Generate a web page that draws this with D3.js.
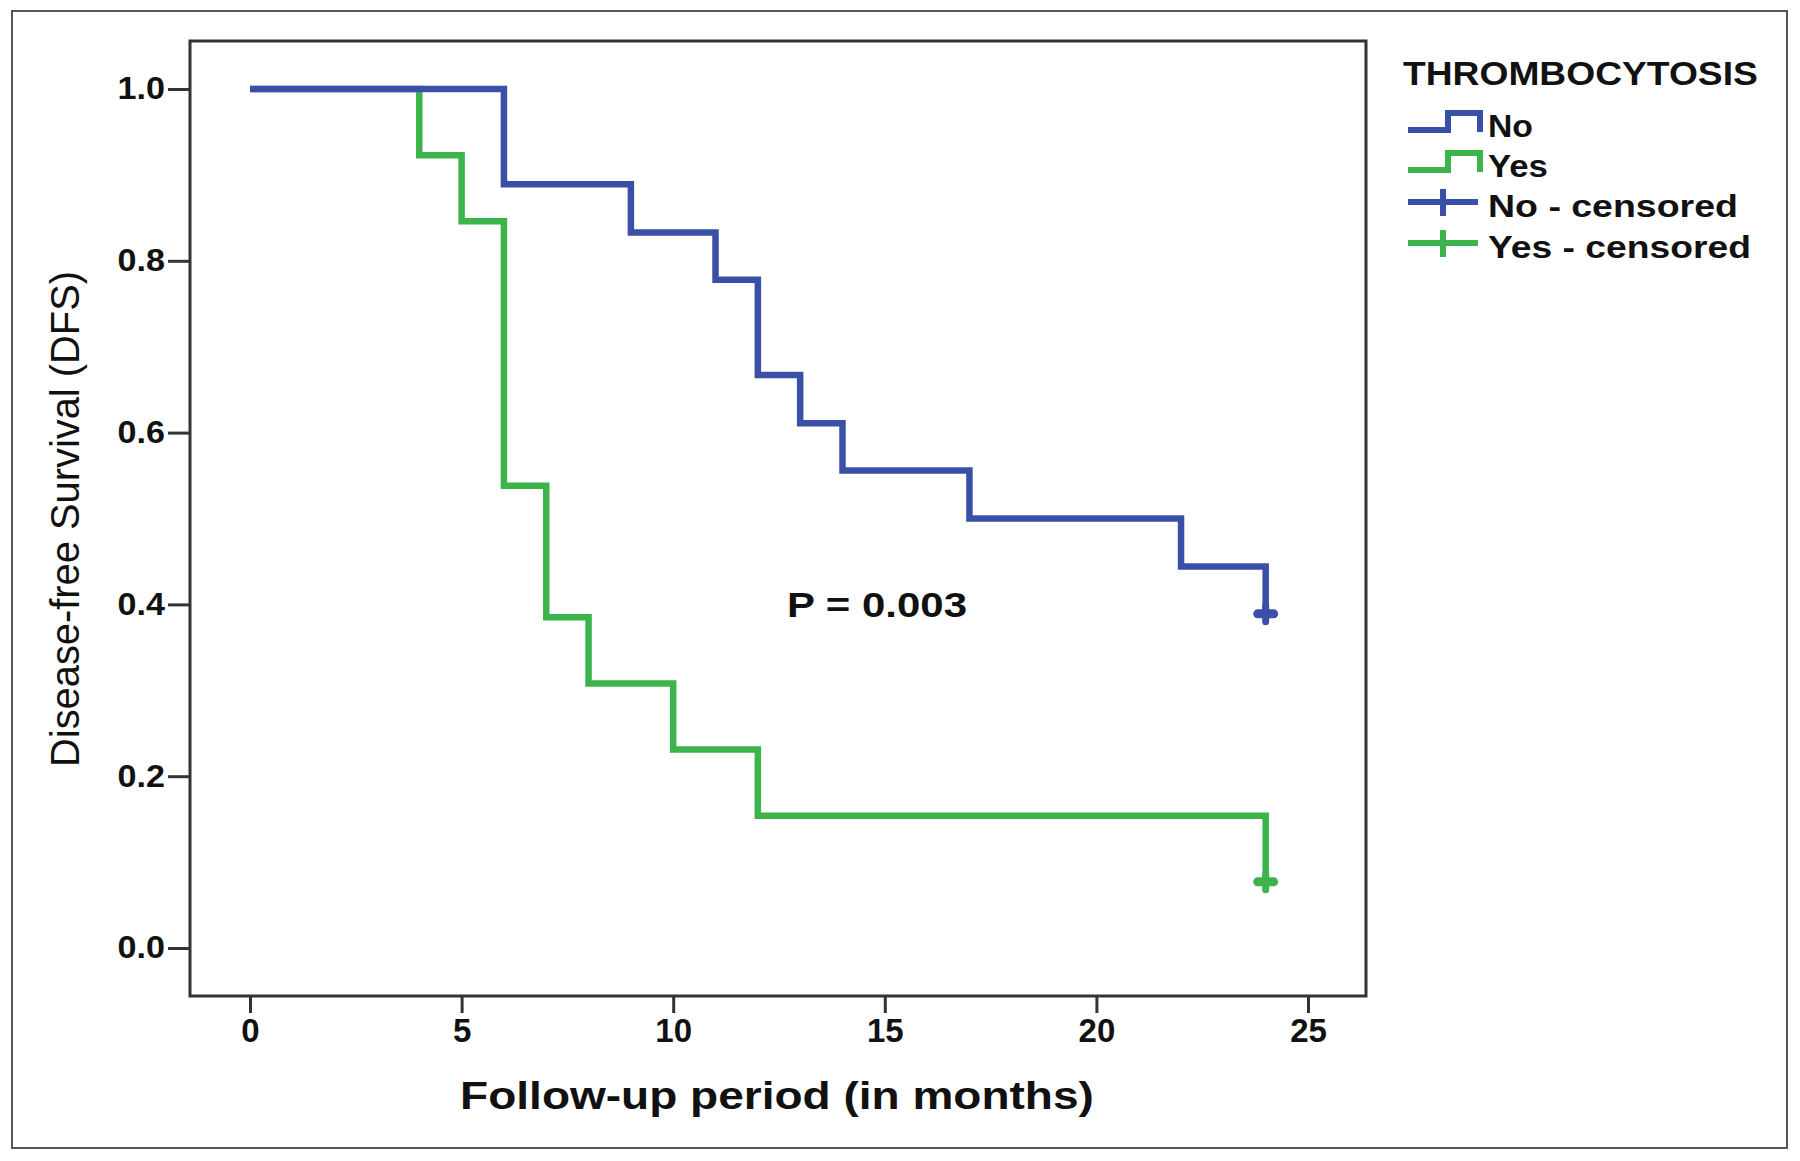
<!DOCTYPE html>
<html>
<head>
<meta charset="utf-8">
<script src="https://cdn.jsdelivr.net/npm/d3@7"></script>
<style>
  html, body { margin: 0; padding: 0; background: #fff; }
  svg { display: block; }
  text { font-family: "Liberation Sans", Arial, "DejaVu Sans", sans-serif; fill: #111; }
</style>
</head>
<body>
<svg id="chart" width="1800" height="1161"></svg>
<script>
// ---- data ----
const noTimes = [0, 6, 9, 11, 12, 13, 14, 17, 22, 24];
const noSurv  = [1.0, 0.889, 0.833, 0.778, 0.667, 0.611, 0.556, 0.500, 0.444, 0.389];
const yesTimes = [0, 4, 5, 6, 7, 8, 10, 12, 24];
const yesSurv  = [1.0, 0.923, 0.846, 0.538, 0.385, 0.308, 0.231, 0.154, 0.077];
const noCensored  = [{t: 24, s: 0.389}];
const yesCensored = [{t: 24, s: 0.077}];
const xTicks = [0, 5, 10, 15, 20, 25];
const yTicks = [0.0, 0.2, 0.4, 0.6, 0.8, 1.0];
const legendTitle = "THROMBOCYTOSIS";
const legendItems = ["No", "Yes", "No - censored", "Yes - censored"];
const pText = "P = 0.003";
const xTitle = "Follow-up period (in months)";
const yTitle = "Disease-free Survival (DFS)";

const BLUE = "#3a50a6", GREEN = "#3cb44b";

const svg = d3.select("#chart");

// horizontally stretched text helper (mimics the widened glyphs of the original)
function stretchText(parent, x, y, str, size, weight, width, anchor) {
  const g = parent.append("g");
  const t = g.append("text").attr("x", 0).attr("y", 0).attr("font-size", size)
    .attr("font-weight", weight).attr("text-anchor", anchor || "start").text(str);
  const len = t.node().getComputedTextLength();
  g.attr("transform", `translate(${x},${y}) scale(${width / len},1)`);
  return g;
}

// outer frame
svg.append("rect").attr("x", 12).attr("y", 11).attr("width", 1775).attr("height", 1137)
  .attr("fill", "none").attr("stroke", "#555").attr("stroke-width", 2);

const L = 190, T = 41, R = 1366, B = 996;
const x = d3.scaleLinear().domain([0, 25]).range([250, 1308]);
const y = d3.scaleLinear().domain([0, 1]).range([948, 89]);

// plot frame
svg.append("rect").attr("x", L).attr("y", T).attr("width", R - L).attr("height", B - T)
  .attr("fill", "none").attr("stroke", "#333").attr("stroke-width", 3);

// axes
const xAxis = svg.append("g").attr("transform", `translate(0,${B})`)
  .call(d3.axisBottom(x).tickValues(xTicks).tickSize(17).tickPadding(6).tickFormat(d3.format("d")));
xAxis.select(".domain").remove();
xAxis.selectAll("line").attr("stroke", "#333").attr("stroke-width", 3);
xAxis.selectAll("text").attr("font-size", 33).attr("font-weight", "bold")
  .attr("fill", "#111").attr("font-family", '"Liberation Sans", Arial, sans-serif');

const yAxis = svg.append("g").attr("transform", `translate(${L},0)`)
  .call(d3.axisLeft(y).tickValues(yTicks).tickSize(22).tickPadding(3).tickFormat(d3.format(".1f")));
yAxis.select(".domain").remove();
yAxis.selectAll("line").attr("stroke", "#333").attr("stroke-width", 3);
yAxis.selectAll("text").attr("font-size", 31).attr("font-weight", "bold")
  .attr("fill", "#111").attr("font-family", '"Liberation Sans", Arial, sans-serif')
  .attr("transform", "scale(1.1,1)").attr("x", -25 / 1.1);

// curves
const line = d3.line().x(d => x(d[0])).y(d => y(d[1])).curve(d3.curveStepAfter);
function drawCurve(times, surv, color) {
  const pts = times.map((t, i) => [t, surv[i]]);
  svg.append("path").attr("d", line(pts)).attr("fill", "none")
    .attr("stroke", color).attr("stroke-width", 6.5).attr("stroke-linejoin", "miter");
}
drawCurve(yesTimes, yesSurv, GREEN);
drawCurve(noTimes, noSurv, BLUE);

function drawCensor(data, color) {
  data.forEach(d => {
    const cx = x(d.t), cy = y(d.s);
    svg.append("line").attr("x1", cx - 8).attr("x2", cx + 8).attr("y1", cy).attr("y2", cy)
      .attr("stroke", color).attr("stroke-width", 9).attr("stroke-linecap", "round");
    svg.append("line").attr("x1", cx).attr("x2", cx).attr("y1", cy - 8).attr("y2", cy + 8)
      .attr("stroke", color).attr("stroke-width", 7).attr("stroke-linecap", "round");
  });
}
drawCensor(noCensored, BLUE);
drawCensor(yesCensored, GREEN);

// P value
stretchText(svg, 787, 617, pText, 36, "bold", 180, "start");

// axis titles
stretchText(svg, 777, 1109, xTitle, 38, "bold", 634, "middle");
svg.append("text").attr("transform", `translate(79,519) rotate(-90)`).attr("text-anchor", "middle")
  .attr("font-size", 40).attr("textLength", 496).attr("lengthAdjust", "spacingAndGlyphs").text(yTitle);

// legend
stretchText(svg, 1403, 85, legendTitle, 34, "bold", 355, "start");

const itemBase = [137, 177, 217, 258];
const itemLen = [45, 60, 250, 263];
const itemColors = [BLUE, GREEN, BLUE, GREEN];
legendItems.forEach((lab, i) => {
  stretchText(svg, 1488, itemBase[i], lab, 32, "bold", itemLen[i], "start");
  const c = itemColors[i];
  if (i < 2) {
    const low = itemBase[i] - 7, high = itemBase[i] - 24;
    svg.append("path").attr("d", `M1408,${low}H1448V${high}H1480V${low + 2}`)
      .attr("fill", "none").attr("stroke", c).attr("stroke-width", 6);
  } else {
    const cy = itemBase[i] - 15;
    svg.append("line").attr("x1", 1408).attr("x2", 1478).attr("y1", cy).attr("y2", cy)
      .attr("stroke", c).attr("stroke-width", 6);
    svg.append("line").attr("x1", 1443).attr("x2", 1443).attr("y1", cy - 13).attr("y2", cy + 14)
      .attr("stroke", c).attr("stroke-width", 6);
  }
});
</script>
</body>
</html>
